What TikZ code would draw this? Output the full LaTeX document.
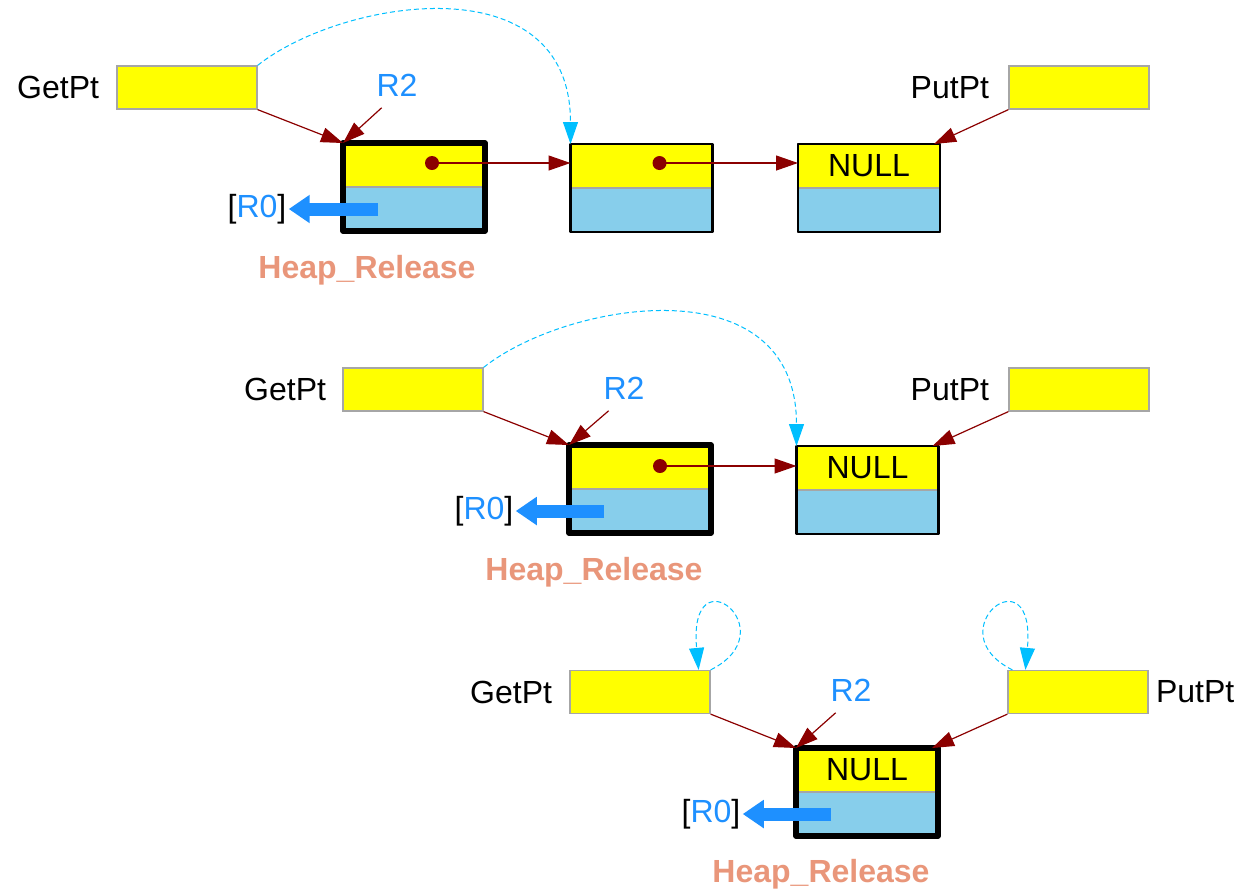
\documentclass[tikz,border=0pt]{standalone}
\usepackage{fontspec}
\setmainfont{Liberation Sans}
\usetikzlibrary{positioning,arrows.meta,calc}
\definecolor{cYellow}{HTML}{FFFF00}
\definecolor{cSky}{HTML}{87CEEB}
\definecolor{cPtr}{HTML}{8B0000}
\definecolor{cReg}{HTML}{1E90FF}
\definecolor{cJump}{HTML}{00BFFF}
\definecolor{cHeap}{HTML}{E9967A}
\tikzset{
  cellTop/.style={draw=gray!70,line width=0.6pt,fill=cYellow,minimum width=71pt,minimum height=22pt,inner sep=0pt,outer sep=0pt},
  cellBot/.style={cellTop,fill=cSky},
  frame/.style={draw=black,line width=1.3pt,line join=round},
  heavyFrame/.style={draw=black,line width=2.6pt,line join=round},
  ptrBox/.style={draw=gray!70,line width=0.6pt,fill=cYellow,minimum width=70pt,minimum height=21.5pt,inner sep=0pt},
  nameLabel/.style={inner sep=0pt},
  regLabel/.style={text=cReg,inner sep=1pt},
  heapLabel/.style={text=cHeap,font=\fontsize{16}{19}\selectfont\bfseries},
  dot/.style={circle,fill=cPtr,minimum size=7pt,inner sep=0pt},
  ptr/.style={draw=cPtr,line width=0.6pt,-{Triangle[length=11pt,width=7.5pt]}},
  jump/.style={draw=cJump,line width=0.5pt,dash pattern=on 2.5pt off 1.5pt,-{Triangle[length=11pt,width=7.5pt]}},
  give/.style={draw=cReg,line width=6.5pt,-{Triangle[length=10.5pt,width=13.5pt]}}
}
\begin{document}
\begin{tikzpicture}[x=0.5pt,y=-0.5pt,font=\fontsize{16}{19}\selectfont]
  \useasboundingbox (0,0) rectangle (1247,891);

  % first row
  \node[ptrBox] (g1) at (187,87.5) {};
  \node[nameLabel,left=8.5pt of g1] (g1l) {GetPt};
  \node[ptrBox] (p1) at (1079,87.5) {};
  \node[nameLabel,left=9.5pt of p1] (p1l) {PutPt};

  \node[cellTop] (a1t) at (414,165) {};
  \node[cellBot,below=0pt of a1t] (a1b) {};
  \draw[heavyFrame] (a1t.north west) rectangle (a1b.south east);
  \node[cellTop] (b1t) at (641.5,166) {};
  \node[cellBot,below=0pt of b1t] (b1b) {};
  \draw[frame] (b1t.north west) rectangle (b1b.south east);
  \node[cellTop] (c1t) at (869,166) {NULL};
  \node[cellBot,below=0pt of c1t] (c1b) {};
  \draw[frame] (c1t.north west) rectangle (c1b.south east);

  \node[dot] (d1) at ([xshift=9pt,yshift=1pt]a1t.center) {};
  \node[dot] (e1) at ([xshift=9pt,yshift=1.5pt]b1t.center) {};
  \draw[ptr] (d1.center) -- (b1t.west |- d1.center);
  \draw[ptr] (e1.center) -- (c1t.west |- e1.center);

  \node[regLabel] (r2a) at (397,85) {R2};
  \draw[ptr] ([xshift=3.75pt,yshift=-4.6pt]r2a.south west) -- (a1t.north west);
  \draw[ptr] (g1.south east) -- (a1t.north west);
  \draw[ptr] (p1.south west) -- ([xshift=-3pt]c1t.north east);
  \draw[jump] (g1.north east) .. controls +(83,-66) and +(0,-183) .. (b1t.north west);

  \node[nameLabel] (r0a) at (257,209) {[\textcolor{cReg}{R0}]};
  \draw[give] ([xshift=-18pt]a1b.center) -- ([xshift=1pt]r0a.east);
  \node[heapLabel] (h1) at (367,270) {Heap\_Release};

  % second row
  \node[ptrBox] (g2) at (413,389.5) {};
  \node[nameLabel,left=8pt of g2] (g2l) {GetPt};
  \node[ptrBox] (p2) at (1079,389.5) {};
  \node[nameLabel,left=9.5pt of p2] (p2l) {PutPt};

  \node[cellTop] (a2t) at (640,467) {};
  \node[cellBot,below=0pt of a2t] (a2b) {};
  \draw[heavyFrame] (a2t.north west) rectangle (a2b.south east);
  \node[cellTop] (c2t) at (867.5,468) {NULL};
  \node[cellBot,below=0pt of c2t] (c2b) {};
  \draw[frame] (c2t.north west) rectangle (c2b.south east);

  \node[dot] (d2) at ([xshift=10pt,yshift=0.5pt]a2t.center) {};
  \draw[ptr] (d2.center) -- (c2t.west |- d2.center);

  \node[regLabel] (r2b) at (624,388) {R2};
  \draw[ptr] ([xshift=3.75pt,yshift=-4.6pt]r2b.south west) -- (a2t.north west);
  \draw[ptr] (g2.south east) -- (a2t.north west);
  \draw[ptr] (p2.south west) -- ([xshift=-3pt]c2t.north east);
  \draw[jump] (g2.north east) .. controls +(83,-66) and +(0,-183) .. (c2t.north west);

  \node[nameLabel] (r0b) at (484,511) {[\textcolor{cReg}{R0}]};
  \draw[give] ([xshift=-18pt]a2b.center) -- ([xshift=1pt]r0b.east);
  \node[heapLabel] (h2) at (594,572) {Heap\_Release};

  % third row
  \node[ptrBox] (g3) at (640,692) {};
  \node[nameLabel,left=8.5pt of g3] (g3l) {GetPt};
  \node[ptrBox] (p3) at (1078,692) {};
  \node[nameLabel,right=3.5pt of p3] (p3l) {PutPt};

  \node[cellTop] (a3t) at (867,770) {NULL};
  \node[cellBot,below=0pt of a3t] (a3b) {};
  \draw[heavyFrame] (a3t.north west) rectangle (a3b.south east);

  \node[regLabel] (r2c) at (851,690) {R2};
  \draw[ptr] ([xshift=3.75pt,yshift=-4.6pt]r2c.south west) -- (a3t.north west);
  \draw[ptr] (g3.south east) -- (a3t.north west);
  \draw[ptr] (p3.south west) -- ([xshift=-3pt]a3t.north east);
  \draw[jump] (g3.north east) .. controls +(78,-39) and +(-11,-120) .. ([xshift=-6pt]g3.north east);
  \draw[jump] ([xshift=2.5pt]p3.north west) .. controls +(-78,-39) and +(11,-120) .. ([xshift=9pt]p3.north west);

  \node[nameLabel] (r0c) at (711,814) {[\textcolor{cReg}{R0}]};
  \draw[give] ([xshift=-18pt]a3b.center) -- ([xshift=1pt]r0c.east);
  \node[heapLabel] (h3) at (821,874) {Heap\_Release};
\end{tikzpicture}
\end{document}
